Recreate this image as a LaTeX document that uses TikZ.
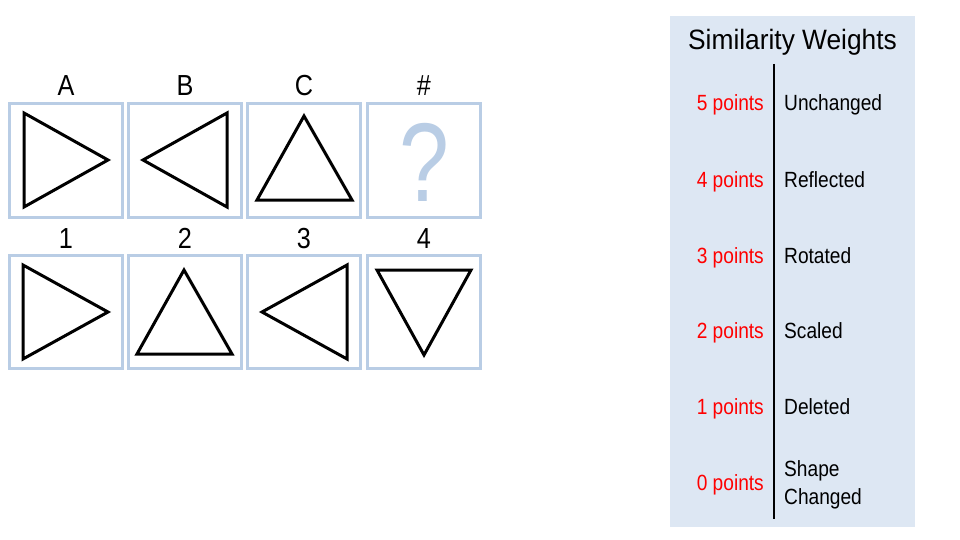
\documentclass[tikz,border=0pt]{standalone}
\usepackage{fontspec}
\setmainfont{Liberation Sans}
\newfontfamily\condfont[FakeStretch=0.87]{Liberation Sans}
\newfontfamily\titlefont[FakeStretch=0.94]{Liberation Sans}
\usepackage{tikz}
\usetikzlibrary{calc}
\definecolor{boxblue}{RGB}{185, 205, 229}
\definecolor{panelblue}{RGB}{221, 231, 243}
\definecolor{ptred}{RGB}{255, 0, 0}
\tikzset{>=latex}

\begin{document}
\begin{tikzpicture}[x=1pt, y=-1pt,
  cell/.style = {draw=boxblue, line width = 3, minimum size = 113, inner sep = 0},
  tri/.style = {draw, line width = 3, line join = miter},
  lab/.style = {anchor = base, inner sep = 0, font = \condfont\fontsize{29}{29}\selectfont},
  pts/.style = {anchor = base east, inner sep = 0, text = ptred, font = \condfont\fontsize{22}{28}\selectfont},
  kind/.style = {anchor = base west, inner sep = 0, align = left, font = \condfont\fontsize{22}{28}\selectfont}]
\useasboundingbox (0,0) rectangle (960,540);
\fill[white] (0,0) rectangle (960,540);

% analogy row
\node[cell] (boxA) at (66, 160.5) {};
\node[cell] (boxB) at (185, 160.5) {};
\node[cell] (boxC) at (304, 160.5) {};
\node[cell] (boxQ) at (424, 160.5) {};
\node[lab] (labA) at (66, 96) {A};
\node[lab] (labB) at (185, 96) {B};
\node[lab] (labC) at (304, 96) {C};
\node[lab] (labQ) at (424, 96) {\#};
\draw[tri] (24, 113) -- (24, 207) -- (108, 160) -- cycle;
\draw[tri] (227, 113) -- (227, 207) -- (143, 160) -- cycle;
\draw[tri] (304, 116) -- (257, 200) -- (352, 200) -- cycle;
\node[inner sep = 0, text = boxblue, font = \fontsize{112}{112}\selectfont] (qmark) at (424, 162) {\scalebox{0.8}[1]{?}};

% answer row
\node[cell] (box1) at (66, 312) {};
\node[cell] (box2) at (185, 312) {};
\node[cell] (box3) at (304, 312) {};
\node[cell] (box4) at (424, 312) {};
\node[lab] (lab1) at (66, 248) {1};
\node[lab] (lab2) at (185, 248) {2};
\node[lab] (lab3) at (304, 248) {3};
\node[lab] (lab4) at (424, 248) {4};
\draw[tri] (23, 265) -- (23, 359) -- (108, 312) -- cycle;
\draw[tri] (184, 270) -- (137, 354) -- (232, 354) -- cycle;
\draw[tri] (347, 265) -- (347, 359) -- (262, 312) -- cycle;
\draw[tri] (377, 270) -- (471, 270) -- (424, 355) -- cycle;

% weights panel
\fill[panelblue] (670, 16) rectangle (915, 527);
\node[anchor = base, inner sep = 0, font = \titlefont\fontsize{28}{28}\selectfont] (title) at (792.5, 50) {Similarity Weights};
\coordinate (divtop) at (774, 64);
\coordinate (divbot) at (774, 519);
\draw[line width = 1.2] (divtop) -- (divbot);
\node[pts] (p5) at (764, 111) {5 points};
\node[pts] (p4) at (764, 187) {4 points};
\node[pts] (p3) at (764, 263) {3 points};
\node[pts] (p2) at (764, 338) {2 points};
\node[pts] (p1) at (764, 414) {1 points};
\node[pts] (p0) at (764, 490) {0 points};
\node[kind] (k5) at (784, 111) {Unchanged};
\node[kind] (k4) at (784, 187) {Reflected};
\node[kind] (k3) at (784, 263) {Rotated};
\node[kind] (k2) at (784, 338) {Scaled};
\node[kind] (k1) at (784, 414) {Deleted};
\node[kind] (k0) at (784, 504) {Shape\\Changed};
\end{tikzpicture}
\end{document}
